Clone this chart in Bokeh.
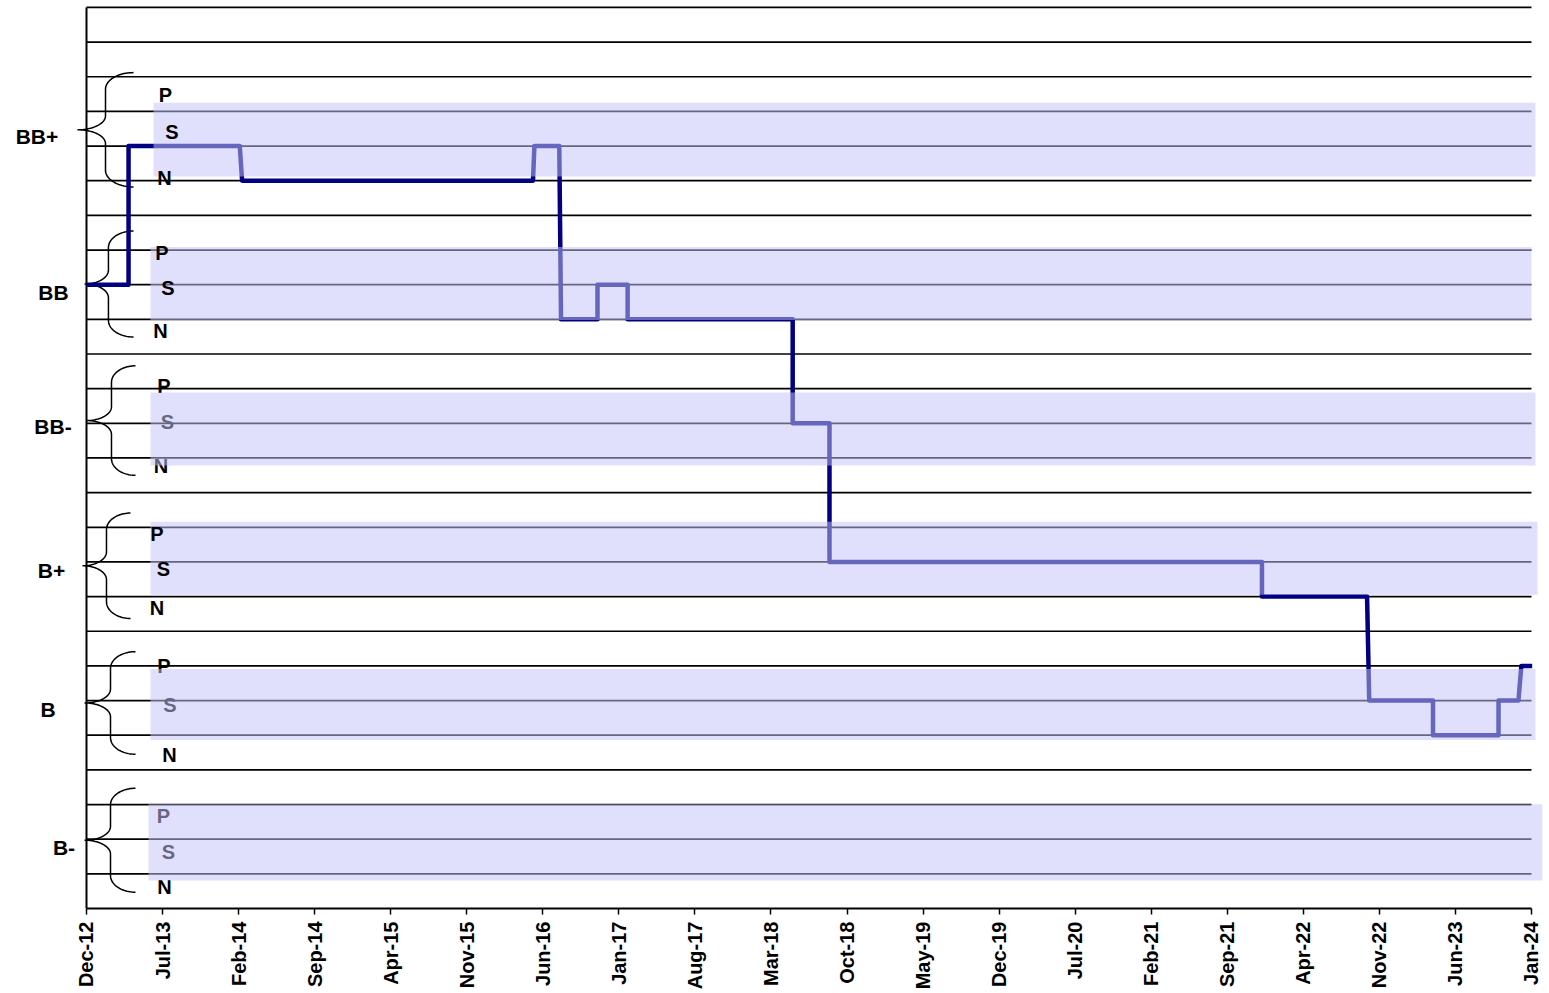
import math
import calendar
import numpy as np
from bokeh.plotting import figure
from bokeh.models import FixedTicker
from bokeh.embed import file_html
from bokeh.resources import INLINE
from bokeh.core.properties import value

# ---------------- data ----------------
ratings = ["BB+", "BB", "BB-", "B+", "B", "B-"]
outlooks = ["P", "S", "N"]

tick_labels = ["Dec-12", "Jul-13", "Feb-14", "Sep-14", "Apr-15", "Nov-15", "Jun-16",
               "Jan-17", "Aug-17", "Mar-18", "Oct-18", "May-19", "Dec-19", "Jul-20",
               "Feb-21", "Sep-21", "Apr-22", "Nov-22", "Jun-23", "Jan-24"]

hist_dates = ["2012-12-01", "2013-03-28", "2013-03-28", "2014-02-04", "2014-02-10",
              "2016-05-04", "2016-05-08", "2016-07-17", "2016-07-22", "2016-11-02",
              "2016-11-02", "2017-01-26", "2017-01-26", "2018-05-01", "2018-05-01",
              "2018-08-13", "2018-08-13", "2021-12-07", "2021-12-07", "2022-09-27",
              "2022-10-03", "2023-03-30", "2023-03-30", "2023-09-30", "2023-09-30",
              "2023-11-25", "2023-12-03", "2024-01-03"]
hist_ratings = ["BB", "BB", "BB+", "BB+", "BB+",
                "BB+", "BB+", "BB+", "BB", "BB",
                "BB", "BB", "BB", "BB", "BB-",
                "BB-", "B+", "B+", "B+", "B+",
                "B", "B", "B", "B", "B",
                "B", "B", "B"]
hist_outlooks = ["S", "S", "S", "S", "N",
                 "N", "S", "S", "N", "N",
                 "S", "S", "N", "N", "S",
                 "S", "S", "S", "N", "N",
                 "S", "S", "N", "N", "S",
                 "S", "P", "P"]

# ---------------- helpers / layout ----------------
def month_pos(d):
    y, m, day = map(int, d.split("-"))
    return (y - 2012) * 12 + (m - 12) + (day - 1) / calendar.monthrange(y, m)[1]

def s_level(r):
    return 22 - 4 * ratings.index(r)

def level(r, o):
    return s_level(r) + {"P": 1, "S": 0, "N": -1}[o]

n_rows = 26
x_end = 133
ticks = list(range(0, x_end + 1, 7))

FONT = "Liberation Sans"

# layout (style) tables, offsets relative to each rating's S level
label_x = [-4.56, -3.04, -3.08, -3.22, -3.54, -2.07]
label_dy = [0.28, -0.22, -0.09, -0.25, -0.25, -0.24]

psn_x = [[7.27, 7.87, 7.18], [6.95, 7.50, 6.81], [7.13, 7.46, 6.86],
         [6.49, 7.09, 6.49], [7.13, 7.69, 7.64], [7.09, 7.55, 7.18]]
psn_dy = [[1.46, 0.42, -0.93], [0.90, -0.11, -1.35], [1.09, 0.05, -1.22],
          [0.82, -0.19, -1.34], [1.01, -0.14, -1.58], [0.68, -0.36, -1.39]]
over_band = [True, True, False, True, False, False]

band_box = [(6.17, 133.37, 1.25, -0.88), (5.89, 133.0, 1.09, -1.02),
            (5.89, 133.37, 0.89, -1.22), (5.89, 133.55, 1.16, -0.95),
            (5.89, 133.37, 0.91, -1.14), (5.71, 134.0, 1.01, -1.19)]

# brace: (tip dy, half height, tip x, stem x, right x)
brace_geo = [(0.47, 1.65, -0.83, 1.75, 4.33), (0.02, 1.53, -0.18, 2.02, 4.33),
             (0.08, 1.58, 0.0, 2.30, 4.51), (-0.11, 1.52, -0.37, 1.84, 4.05),
             (-0.07, 1.48, -0.18, 2.21, 4.51), (-0.03, 1.50, -0.18, 2.21, 4.51)]

# ---------------- figure ----------------
p = figure(frame_width=1545, frame_height=908,
           x_range=(-7.915, 134.29), y_range=(0, 26.2),
           y_axis_location=None, output_backend="svg", toolbar_location=None,
           min_border_left=0, min_border_right=0, min_border_top=0, min_border_bottom=0)
p.xgrid.visible = False
p.ygrid.visible = False
p.outline_line_color = None
p.background_fill_color = "white"

ax = p.xaxis[0]
ax.ticker = FixedTicker(ticks=ticks)
ax.major_label_overrides = {t: lab for t, lab in zip(ticks, tick_labels)}
ax.bounds = (0, x_end)
ax.major_label_orientation = math.pi / 2
ax.major_label_text_font = FONT
ax.major_label_text_font_style = "bold"
ax.major_label_text_font_size = "20px"
ax.major_label_text_color = "black"
ax.major_label_standoff = 7
ax.axis_line_color = "black"
ax.axis_line_width = 2
ax.major_tick_line_color = "black"
ax.major_tick_line_width = 1.5
ax.major_tick_in = 0
ax.major_tick_out = 6
ax.minor_tick_line_color = None

# horizontal rule lines
rows = list(range(1, n_rows + 1))
p.segment(x0=[0] * len(rows), y0=rows, x1=[x_end] * len(rows), y1=rows,
          line_color="black", line_width=1.7)
# left vertical axis line
p.segment(x0=[0], y0=[0], x1=[0], y1=[n_rows], line_color="black", line_width=2)

# braces
def cubic(p0, p1, p2, p3, n=24):
    t = np.linspace(0, 1, n)[:, None]
    P = ((1 - t) ** 3) * np.array(p0) + 3 * ((1 - t) ** 2) * t * np.array(p1) \
        + 3 * (1 - t) * t ** 2 * np.array(p2) + t ** 3 * np.array(p3)
    return P

k = 0.5523
bx, by = [], []
for r, (dy, h, xt, xv, xr) in zip(ratings, brace_geo):
    yc = s_level(r) + dy
    a, b = 0.48, 0.40
    yt, yb = yc + h, yc - h
    segs = [
        cubic((xr, yt), (xr - k * (xr - xv), yt), (xv, yt - a + k * a), (xv, yt - a)),
        np.array([(xv, yt - a), (xv, yc + b)]),
        cubic((xv, yc + b), (xv, yc + b - k * b), (xt + k * (xv - xt), yc), (xt, yc)),
        cubic((xt, yc), (xt + k * (xv - xt), yc), (xv, yc - b + k * b), (xv, yc - b)),
        np.array([(xv, yc - b), (xv, yb + a)]),
        cubic((xv, yb + a), (xv, yb + a - k * a), (xr - k * (xr - xv), yb), (xr, yb)),
    ]
    pts = np.vstack(segs)
    bx.append(list(pts[:, 0]))
    by.append(list(pts[:, 1]))
p.multi_line(xs=bx, ys=by, line_color="black", line_width=1.5)

# rating labels
p.text(x=label_x, y=[s_level(r) + d for r, d in zip(ratings, label_dy)], text=ratings,
       text_font=value(FONT), text_font_style="bold", text_font_size="21px",
       text_align="center", text_baseline="middle", text_color="black")

def psn_text(sel):
    xs, ys, ts = [], [], []
    for i, r in enumerate(ratings):
        if over_band[i] != sel:
            continue
        for j, o in enumerate(outlooks):
            xs.append(psn_x[i][j])
            ys.append(s_level(r) + psn_dy[i][j])
            ts.append(o)
    p.text(x=xs, y=ys, text=ts, text_font=value(FONT), text_font_style="bold",
           text_font_size="20px", text_align="center", text_baseline="middle",
           text_color="black")

psn_text(False)

# rating history step line
hx = [month_pos(d) for d in hist_dates]
hy = [level(r, o) for r, o in zip(hist_ratings, hist_outlooks)]
p.line(hx, hy, line_color="#000080", line_width=4.5, line_join="round")

# translucent bands
p.quad(left=[bb[0] for bb in band_box], right=[bb[1] for bb in band_box],
       top=[s_level(r) + bb[2] for r, bb in zip(ratings, band_box)],
       bottom=[s_level(r) + bb[3] for r, bb in zip(ratings, band_box)],
       fill_color="#C4C4FA", fill_alpha=0.52, line_color=None)

psn_text(True)

open("out.html", "w").write(file_html(p, INLINE))
